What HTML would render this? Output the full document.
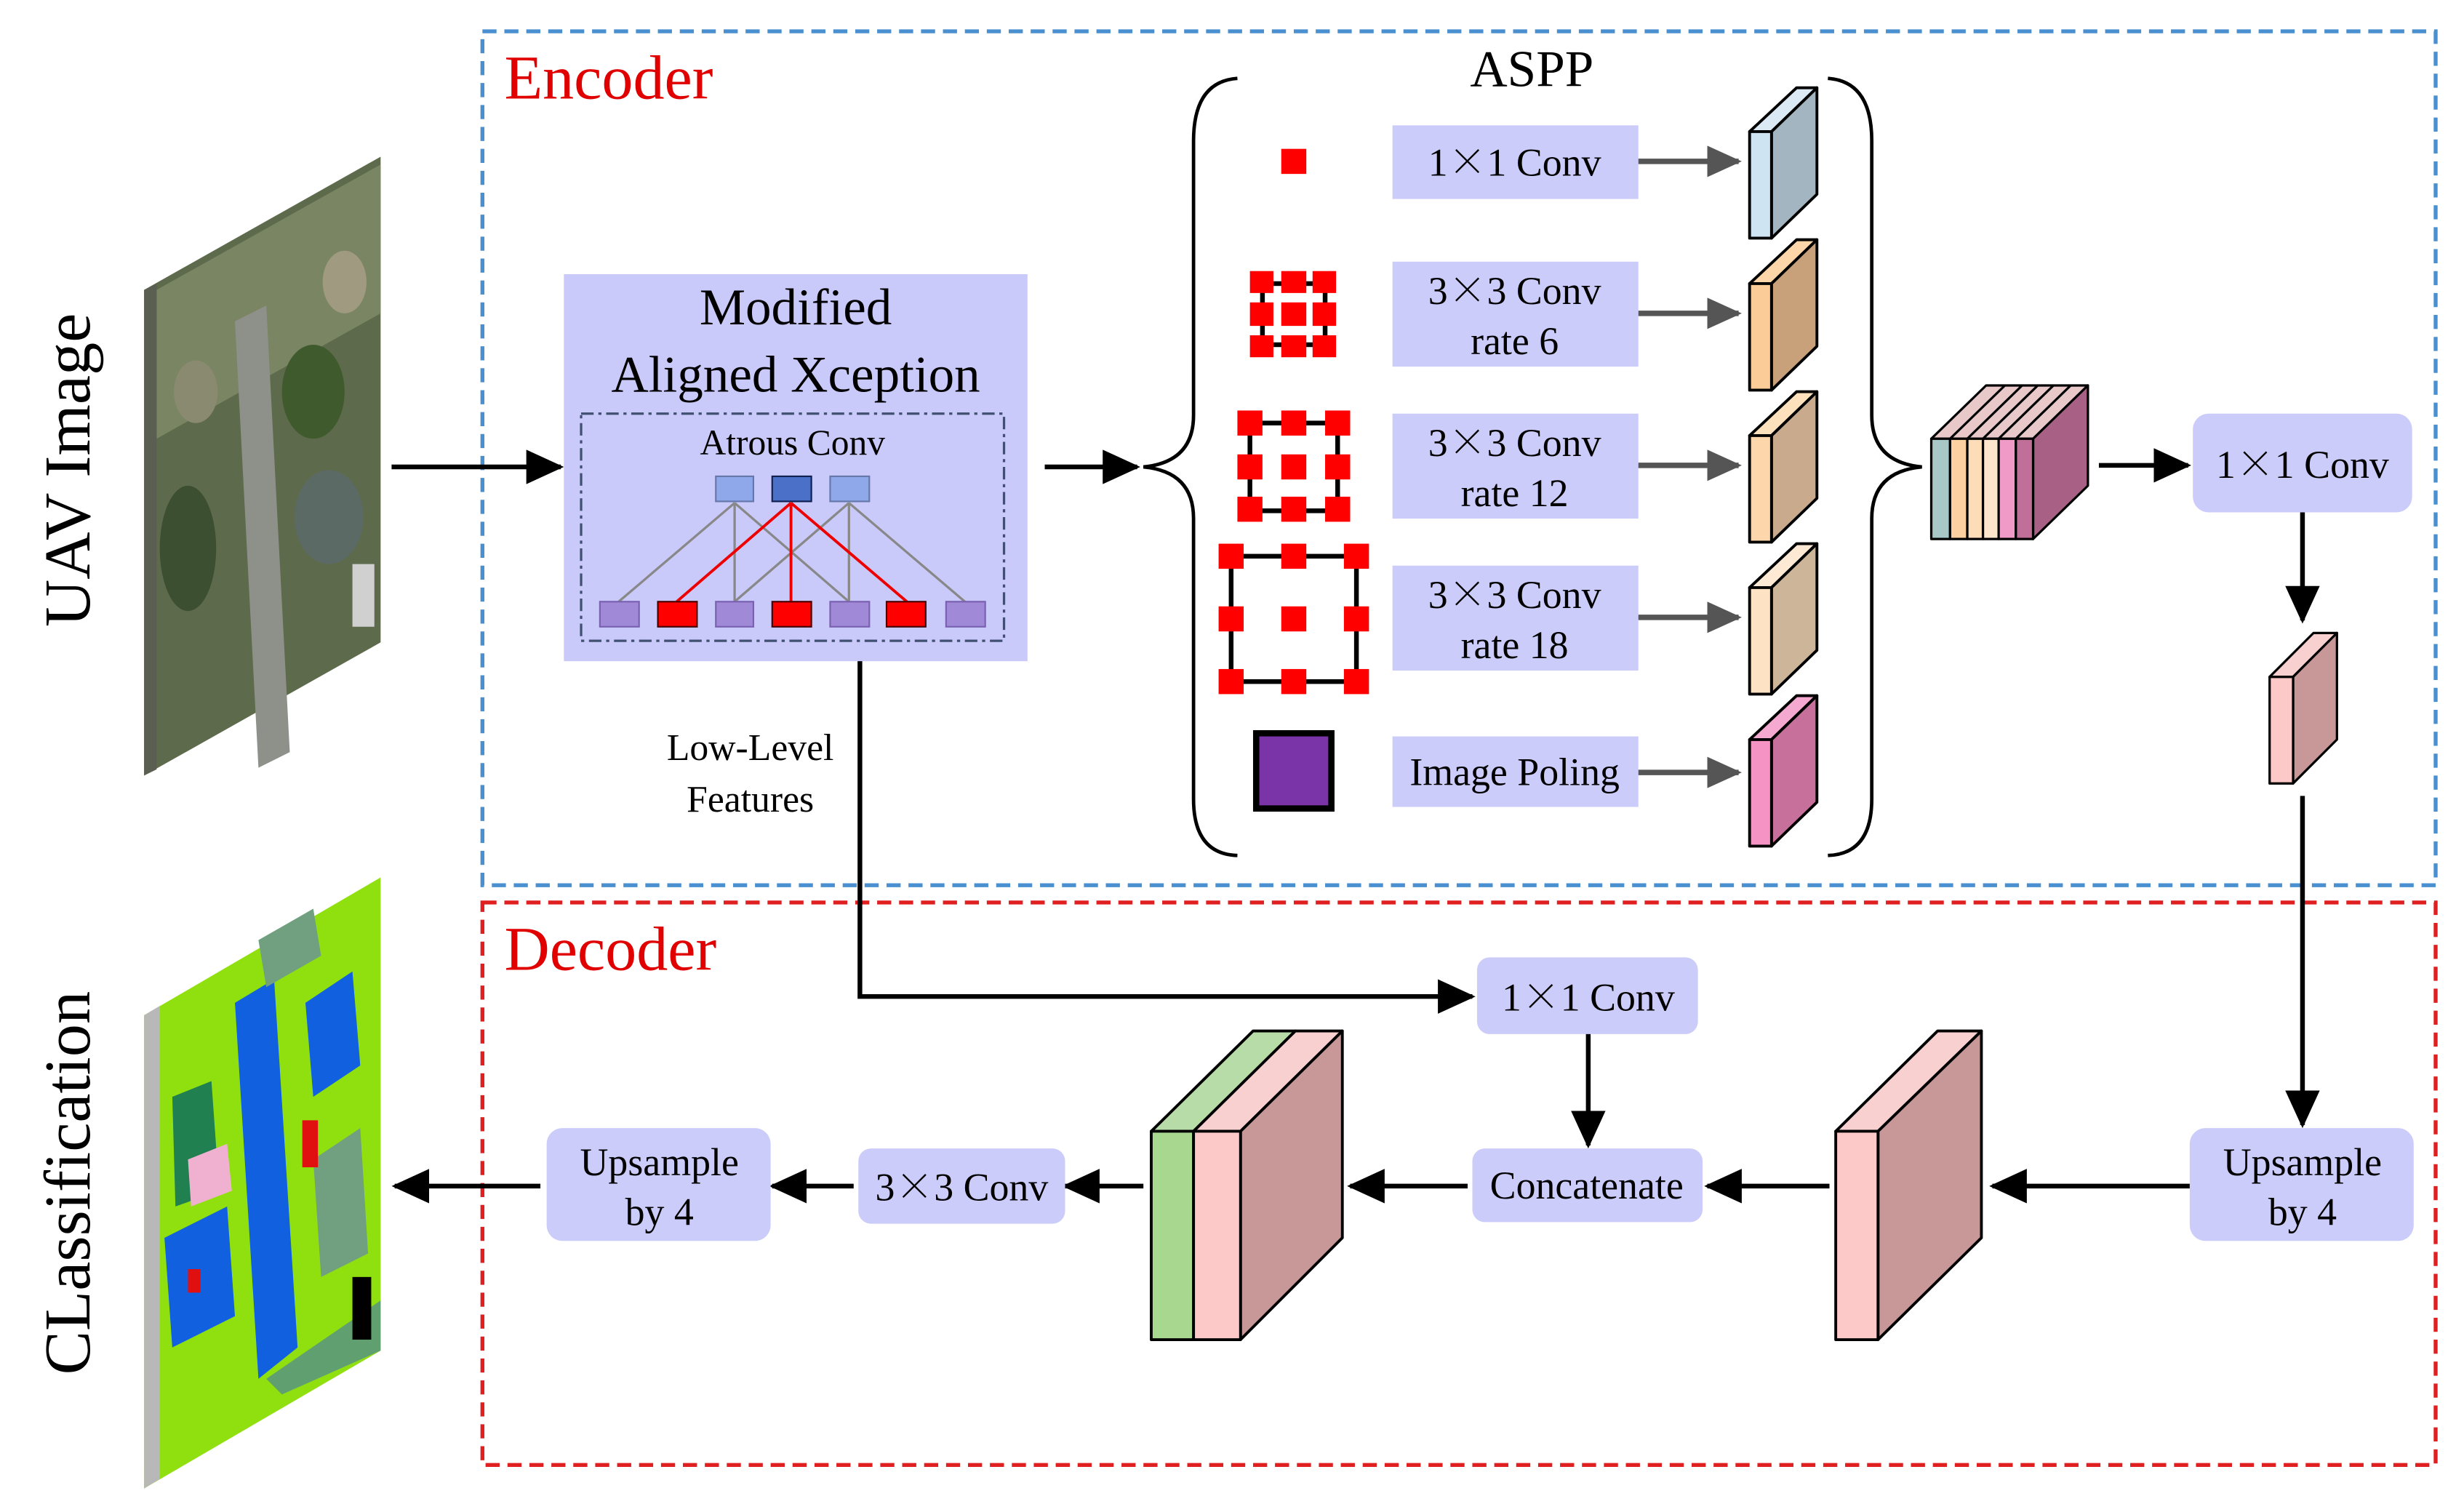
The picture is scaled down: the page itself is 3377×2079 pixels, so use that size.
<!DOCTYPE html>
<html><head><meta charset="utf-8"><style>html,body{margin:0;padding:0;background:#fff}svg{display:block}.x{font-family:"Noto Serif CJK SC","Noto Sans CJK SC",serif}</style></head>
<body>
<svg width="3377" height="2079" viewBox="0 0 1568 965" preserveAspectRatio="none" xmlns="http://www.w3.org/2000/svg" font-family="'Liberation Serif', serif">
<defs>
<marker id="abk" markerWidth="24" markerHeight="22" refX="22" refY="11" orient="auto" markerUnits="userSpaceOnUse"><path d="M0,0 L24,11 L0,22 z" fill="#000"/></marker>
<marker id="agr" markerWidth="22" markerHeight="20" refX="20" refY="10" orient="auto" markerUnits="userSpaceOnUse"><path d="M0,0 L22,10 L0,20 z" fill="#555"/></marker>
</defs>

<rect x="308" y="20" width="1247" height="545" fill="none" stroke="#4a90d0" stroke-width="2.5" stroke-dasharray="9,5"/>
<rect x="308" y="576" width="1247" height="359" fill="none" stroke="#e02020" stroke-width="2.5" stroke-dasharray="9,5"/>
<text x="322" y="63" font-size="40" fill="#e00000">Encoder</text>
<text x="322" y="619" font-size="40" fill="#e00000">Decoder</text>

<!-- UAV image -->
<polygon points="92,185 243,100 243,410 92,495" fill="#5e6a4c"/>
<polygon points="100,185 243,105 243,200 100,280" fill="#7a8563"/>
<polygon points="150,205 170,195 185,480 165,490" fill="#8e918a"/>
<ellipse cx="200" cy="250" rx="20" ry="30" fill="#3f5a2c"/>
<ellipse cx="120" cy="350" rx="18" ry="40" fill="#3c4f30"/>
<ellipse cx="210" cy="330" rx="22" ry="30" fill="#5b6a65"/>
<ellipse cx="125" cy="250" rx="14" ry="20" fill="#8a8a70"/>
<ellipse cx="220" cy="180" rx="14" ry="20" fill="#a09a80"/>
<rect x="225" y="360" width="14" height="40" fill="#d0d0d0"/>
<polygon points="92,185 100,181 100,491 92,495" fill="#5a5f52"/>
<text transform="translate(57,300) rotate(-90)" font-size="42" text-anchor="middle">UAV Image</text>

<!-- Classification image -->
<polygon points="92,648 243,560 243,862 92,950" fill="#90e010"/>
<polygon points="92,648 102,642 102,944 92,950" fill="#b8b8b8"/>
<polygon points="150,640 175,625 190,860 165,880" fill="#1060e0"/>
<polygon points="110,700 135,690 140,760 112,770" fill="#208050"/>
<polygon points="195,640 225,620 230,680 200,700" fill="#1060e0"/>
<polygon points="105,790 145,770 150,840 110,860" fill="#1060e0"/>
<polygon points="200,740 230,720 235,800 205,815" fill="#70a080"/>
<polygon points="120,740 145,730 148,760 122,770" fill="#f0b0d0"/>
<polygon points="165,600 200,580 205,610 170,630" fill="#70a080"/>
<rect x="193" y="715" width="10" height="30" fill="#e01010"/>
<rect x="120" y="810" width="8" height="15" fill="#e01010"/>
<polygon points="170,880 243,830 243,862 180,890" fill="#60a070"/>
<rect x="225" y="815" width="12" height="40" fill="#000"/>
<text transform="translate(57,755) rotate(-90)" font-size="42" text-anchor="middle">CLassification</text>

<line x1="250" y1="298" x2="358" y2="298" stroke="#000" stroke-width="3" marker-end="url(#abk)"/>

<rect x="360" y="175" width="296" height="247" fill="#c9c9fa"/>
<text x="508" y="207" font-size="33" text-anchor="middle">Modified</text>
<text x="508" y="250" font-size="33" text-anchor="middle">Aligned Xception</text>
<rect x="371" y="264" width="270" height="145" fill="none" stroke="#405070" stroke-width="1.5" stroke-dasharray="8,3,2,3"/>
<text x="506" y="290" font-size="23" text-anchor="middle">Atrous Conv</text>
<g stroke="#888" stroke-width="1.5">
<line x1="395" y1="384" x2="469" y2="321"/><line x1="469" y1="384" x2="469" y2="321"/><line x1="542" y1="384" x2="469" y2="321"/>
<line x1="469" y1="384" x2="542" y2="321"/><line x1="542" y1="384" x2="542" y2="321"/><line x1="616" y1="384" x2="542" y2="321"/>
</g>
<g stroke="#e00" stroke-width="1.8">
<line x1="432" y1="384" x2="505" y2="321"/><line x1="505" y1="384" x2="505" y2="321"/><line x1="579" y1="384" x2="505" y2="321"/>
</g>
<g stroke="#6677aa" stroke-width="1">
<rect x="457" y="304" width="24" height="16" fill="#8fa8ea"/>
<rect x="493" y="304" width="25" height="16" fill="#4a70c8" stroke="#102050"/>
<rect x="530" y="304" width="25" height="16" fill="#8fa8ea"/>
</g>
<g stroke="#7a60b0" stroke-width="1">
<rect x="383" y="384" width="25" height="16" fill="#a08ad8"/>
<rect x="420" y="384" width="25" height="16" fill="#ff0000" stroke="#400"/>
<rect x="457" y="384" width="24" height="16" fill="#a08ad8"/>
<rect x="493" y="384" width="25" height="16" fill="#ff0000" stroke="#400"/>
<rect x="530" y="384" width="25" height="16" fill="#a08ad8"/>
<rect x="566" y="384" width="25" height="16" fill="#ff0000" stroke="#400"/>
<rect x="604" y="384" width="25" height="16" fill="#a08ad8"/>
</g>

<text x="479" y="485" font-size="24" text-anchor="middle">Low-Level</text>
<text x="479" y="518" font-size="24" text-anchor="middle">Features</text>

<line x1="667" y1="298" x2="726" y2="298" stroke="#000" stroke-width="3" marker-end="url(#abk)"/>

<path d="M790,50 Q762,52 762,90 L762,265 Q762,295 730,298 Q762,301 762,331 L762,510 Q762,545 790,546" fill="none" stroke="#000" stroke-width="2.2"/>
<path d="M1167,50 Q1195,52 1195,90 L1195,265 Q1195,295 1227,298 Q1195,301 1195,331 L1195,510 Q1195,545 1167,546" fill="none" stroke="#000" stroke-width="2.2"/>
<text x="978" y="55" font-size="33" text-anchor="middle">ASPP</text>

<rect x="818" y="95" width="16" height="16" fill="#f00"/>
<g>
<rect x="806" y="181" width="40" height="39" fill="none" stroke="#000" stroke-width="3"/>
<g fill="#f00">
<rect x="798" y="173" width="15" height="14"/><rect x="818" y="173" width="16" height="14"/><rect x="838" y="173" width="15" height="14"/>
<rect x="798" y="193" width="15" height="15"/><rect x="818" y="193" width="16" height="15"/><rect x="838" y="193" width="15" height="15"/>
<rect x="798" y="214" width="15" height="14"/><rect x="818" y="214" width="16" height="14"/><rect x="838" y="214" width="15" height="14"/>
</g></g>
<g>
<rect x="798" y="270" width="56" height="56" fill="none" stroke="#000" stroke-width="3"/>
<g fill="#f00">
<rect x="790" y="262" width="16" height="16"/><rect x="818" y="262" width="16" height="16"/><rect x="846" y="262" width="16" height="16"/>
<rect x="790" y="290" width="16" height="16"/><rect x="818" y="290" width="16" height="16"/><rect x="846" y="290" width="16" height="16"/>
<rect x="790" y="317" width="16" height="16"/><rect x="818" y="317" width="16" height="16"/><rect x="846" y="317" width="16" height="16"/>
</g></g>
<g>
<rect x="786" y="355" width="80" height="80" fill="none" stroke="#000" stroke-width="3"/>
<g fill="#f00">
<rect x="778" y="347" width="16" height="16"/><rect x="818" y="347" width="16" height="16"/><rect x="858" y="347" width="16" height="16"/>
<rect x="778" y="387" width="16" height="16"/><rect x="818" y="387" width="16" height="16"/><rect x="858" y="387" width="16" height="16"/>
<rect x="778" y="427" width="16" height="16"/><rect x="818" y="427" width="16" height="16"/><rect x="858" y="427" width="16" height="16"/>
</g></g>
<rect x="802" y="468" width="48" height="48" fill="#7a34a8" stroke="#000" stroke-width="4"/>

<g fill="#ccccfb">
<rect x="889" y="80" width="157" height="47"/>
<rect x="889" y="167" width="157" height="67"/>
<rect x="889" y="264" width="157" height="67"/>
<rect x="889" y="361" width="157" height="67"/>
<rect x="889" y="470" width="157" height="45"/>
</g>
<g font-size="25" text-anchor="middle">
<text x="967" y="112">1<tspan class="x">×</tspan>1 Conv</text>
<text x="967" y="194">3<tspan class="x">×</tspan>3 Conv</text><text x="967" y="226">rate 6</text>
<text x="967" y="291">3<tspan class="x">×</tspan>3 Conv</text><text x="967" y="323">rate 12</text>
<text x="967" y="388">3<tspan class="x">×</tspan>3 Conv</text><text x="967" y="420">rate 18</text>
<text x="967" y="501">Image Poling</text>
</g>
<g stroke="#555" stroke-width="3.5">
<line x1="1046" y1="103" x2="1110" y2="103" marker-end="url(#agr)"/>
<line x1="1046" y1="200" x2="1110" y2="200" marker-end="url(#agr)"/>
<line x1="1046" y1="297" x2="1110" y2="297" marker-end="url(#agr)"/>
<line x1="1046" y1="394" x2="1110" y2="394" marker-end="url(#agr)"/>
<line x1="1046" y1="493" x2="1110" y2="493" marker-end="url(#agr)"/>
</g>

<g stroke="#000" stroke-width="1.8" stroke-linejoin="round">
<polygon points="1117,84 1147,56 1160,56 1131,84" fill="#dbe9f5"/><polygon points="1131,84 1160,56 1160,124 1131,152" fill="#a2b5c0"/><rect x="1117" y="84" width="14" height="68" fill="#cfe4f3"/>
<polygon points="1117,181 1147,153 1160,153 1131,181" fill="#fcd5a8"/><polygon points="1131,181 1160,153 1160,221 1131,249" fill="#c8a07a"/><rect x="1117" y="181" width="14" height="68" fill="#fccc98"/>
<polygon points="1117,278 1147,250 1160,250 1131,278" fill="#fde0bc"/><polygon points="1131,278 1160,250 1160,318 1131,346" fill="#c9aa8c"/><rect x="1117" y="278" width="14" height="68" fill="#fdd6ac"/>
<polygon points="1117,375 1147,347 1160,347 1131,375" fill="#feead4"/><polygon points="1131,375 1160,347 1160,415 1131,443" fill="#cdb59a"/><rect x="1117" y="375" width="14" height="68" fill="#fde2c4"/>
<polygon points="1117,472 1147,444 1160,444 1131,472" fill="#f5a8d0"/><polygon points="1131,472 1160,444 1160,512 1131,540" fill="#c8709c"/><rect x="1117" y="472" width="14" height="68" fill="#f594c4"/>
</g>

<g stroke="#000" stroke-width="1.5" stroke-linejoin="round">
<polygon points="1233,280 1268,246 1333,246 1298,280" fill="#e8c8c8"/>
<polygon points="1298,280 1333,246 1333,310 1298,344" fill="#a86084"/>
<rect x="1233" y="280" width="12" height="64" fill="#a8c8c8"/>
<rect x="1245" y="280" width="11" height="64" fill="#fcd0a0"/>
<rect x="1256" y="280" width="10" height="64" fill="#fddcb8"/>
<rect x="1266" y="280" width="10" height="64" fill="#fde6cc"/>
<rect x="1276" y="280" width="11" height="64" fill="#f09ac8"/>
<rect x="1287" y="280" width="11" height="64" fill="#c07098"/>
<line x1="1245" y1="280" x2="1280" y2="246"/><line x1="1256" y1="280" x2="1291" y2="246"/><line x1="1266" y1="280" x2="1301" y2="246"/><line x1="1276" y1="280" x2="1311" y2="246"/><line x1="1287" y1="280" x2="1322" y2="246"/>
</g>
<line x1="1340" y1="297" x2="1397" y2="297" stroke="#000" stroke-width="3" marker-end="url(#abk)"/>
<rect x="1400" y="264" width="140" height="63" rx="10" fill="#ccccfb"/>
<text x="1470" y="305" font-size="25" text-anchor="middle">1<tspan class="x">×</tspan>1 Conv</text>
<line x1="1470" y1="327" x2="1470" y2="396" stroke="#000" stroke-width="3" marker-end="url(#abk)"/>
<g stroke="#000" stroke-width="1.5" stroke-linejoin="round">
<polygon points="1449,432 1477,404 1492,404 1464,432" fill="#f8d0d0"/>
<polygon points="1464,432 1492,404 1492,472 1464,500" fill="#c89898"/>
<rect x="1449" y="432" width="15" height="68" fill="#fcc8c8"/>
</g>
<line x1="1470" y1="508" x2="1470" y2="718" stroke="#000" stroke-width="3" marker-end="url(#abk)"/>
<rect x="1398" y="720" width="143" height="72" rx="10" fill="#ccccfb"/>
<text x="1470" y="750" font-size="25" text-anchor="middle">Upsample</text>
<text x="1470" y="782" font-size="25" text-anchor="middle">by 4</text>

<line x1="1398" y1="757" x2="1272" y2="757" stroke="#000" stroke-width="3" marker-end="url(#abk)"/>
<g stroke="#000" stroke-width="1.8" stroke-linejoin="round">
<polygon points="1172,722 1237,658 1265,658 1199,722" fill="#f8d0d0"/>
<polygon points="1199,722 1265,658 1265,790 1199,855" fill="#c89898"/>
<rect x="1172" y="722" width="27" height="133" fill="#fcc8c8"/>
</g>
<line x1="1168" y1="757" x2="1090" y2="757" stroke="#000" stroke-width="3" marker-end="url(#abk)"/>
<rect x="940" y="733" width="147" height="47" rx="8" fill="#ccccfb"/>
<text x="1013" y="765" font-size="25" text-anchor="middle">Concatenate</text>

<polyline points="549,422 549,636 940,636" fill="none" stroke="#000" stroke-width="3" marker-end="url(#abk)"/>
<rect x="943" y="611" width="141" height="49" rx="8" fill="#ccccfb"/>
<text x="1014" y="645" font-size="25" text-anchor="middle">1<tspan class="x">×</tspan>1 Conv</text>
<line x1="1014" y1="660" x2="1014" y2="731" stroke="#000" stroke-width="3" marker-end="url(#abk)"/>

<line x1="937" y1="757" x2="862" y2="757" stroke="#000" stroke-width="3" marker-end="url(#abk)"/>
<g stroke="#000" stroke-width="1.8" stroke-linejoin="round">
<polygon points="735,722 800,658 827,658 762,722" fill="#b8dca8"/>
<polygon points="762,722 827,658 857,658 792,722" fill="#f8d0d0"/>
<polygon points="792,722 857,658 857,790 792,855" fill="#c89898"/>
<rect x="735" y="722" width="27" height="133" fill="#a8d890"/>
<rect x="762" y="722" width="30" height="133" fill="#fcc8c8"/>
</g>
<line x1="730" y1="757" x2="680" y2="757" stroke="#000" stroke-width="3" marker-end="url(#abk)"/>
<rect x="548" y="733" width="132" height="48" rx="8" fill="#ccccfb"/>
<text x="614" y="766" font-size="25" text-anchor="middle">3<tspan class="x">×</tspan>3 Conv</text>
<line x1="545" y1="757" x2="493" y2="757" stroke="#000" stroke-width="3" marker-end="url(#abk)"/>
<rect x="349" y="720" width="143" height="72" rx="10" fill="#ccccfb"/>
<text x="421" y="750" font-size="25" text-anchor="middle">Upsample</text>
<text x="421" y="782" font-size="25" text-anchor="middle">by 4</text>
<line x1="345" y1="757" x2="252" y2="757" stroke="#000" stroke-width="3" marker-end="url(#abk)"/>
</svg>
</body></html>
